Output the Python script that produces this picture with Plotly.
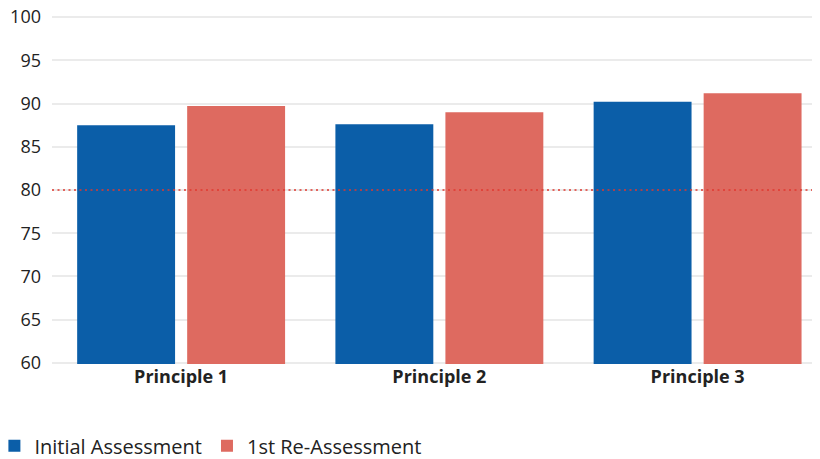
import plotly.graph_objects as go

categories = ["Principle 1", "Principle 2", "Principle 3"]
initial = [87.5, 87.6, 90.2]
reassess = [89.7, 89.0, 91.2]
threshold = 80
y_ticks = [60, 65, 70, 75, 80, 85, 90, 95, 100]

fig = go.Figure()
fig.add_trace(go.Bar(x=categories, y=initial, name="Initial Assessment",
                     marker=dict(color="#0b5ea8", line=dict(width=0))))
fig.add_trace(go.Bar(x=categories, y=reassess, name="1st Re-Assessment",
                     marker=dict(color="#de6a60", line=dict(width=0))))

fig.add_shape(type="line", xref="paper", yref="y", x0=0, x1=1, y0=threshold, y1=threshold,
              line=dict(color="#e0392f", width=1.5, dash="2px,3.5px"), layer="above")

fig.update_layout(
    width=812, height=451,
    margin=dict(l=44, r=0, t=8, b=95, autoexpand=False),
    paper_bgcolor="white", plot_bgcolor="white",
    barmode="group", bargap=0.148, bargroupgap=0.11,
    font=dict(family="Open Sans", color="#222222"),
    showlegend=True,
    legend=dict(orientation="h", x=-0.075, xanchor="left",
                y=-0.235, yanchor="middle", font=dict(size=20, color="#222222"),
                itemwidth=30, traceorder="normal"),
    xaxis=dict(showgrid=False, showline=False, ticks="", range=[-0.5, 2.474],
               tickfont=dict(size=18, color="#222222", family="Open Sans", weight="bold")),
    yaxis=dict(range=[59.88, 100.12], tickvals=y_ticks, showgrid=True, gridcolor="#ebebeb",
               gridwidth=2, zeroline=False, showline=False, ticks="",
               ticklabeloverflow="allow",
               tickfont=dict(size=18, color="#222222"), ticklabelstandoff=10),
)

fig.write_html("out.html")
